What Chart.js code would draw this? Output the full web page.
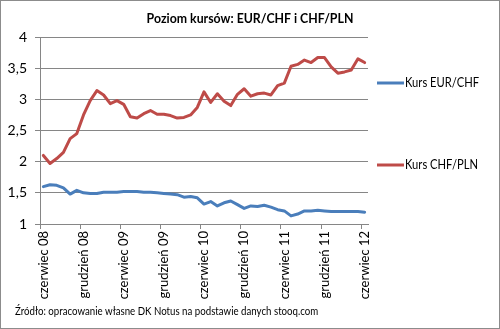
<!DOCTYPE html>
<html lang="pl">
<head>
<meta charset="utf-8">
<title>Poziom kursów: EUR/CHF i CHF/PLN</title>
<script src="https://cdn.jsdelivr.net/npm/chart.js@4"></script>
<style>
    html, body { margin: 0; padding: 0; background: #fff; }
    #wrap { position: relative; width: 500px; height: 329px; }
</style>
</head>
<body>
<div id="wrap"><canvas id="kursy" width="500" height="329"></canvas></div>
<script>
// miesiące od czerwca 2008 do czerwca 2012
const months = [
    'czerwiec 08', 'lipiec 08', 'sierpień 08', 'wrzesień 08', 'październik 08', 'listopad 08',
    'grudzień 08', 'styczeń 09', 'luty 09', 'marzec 09', 'kwiecień 09', 'maj 09',
    'czerwiec 09', 'lipiec 09', 'sierpień 09', 'wrzesień 09', 'październik 09', 'listopad 09',
    'grudzień 09', 'styczeń 10', 'luty 10', 'marzec 10', 'kwiecień 10', 'maj 10',
    'czerwiec 10', 'lipiec 10', 'sierpień 10', 'wrzesień 10', 'październik 10', 'listopad 10',
    'grudzień 10', 'styczeń 11', 'luty 11', 'marzec 11', 'kwiecień 11', 'maj 11',
    'czerwiec 11', 'lipiec 11', 'sierpień 11', 'wrzesień 11', 'październik 11', 'listopad 11',
    'grudzień 11', 'styczeń 12', 'luty 12', 'marzec 12', 'kwiecień 12', 'maj 12',
    'czerwiec 12'
];

const eurChf = [
    1.60, 1.63, 1.62, 1.58, 1.48, 1.54, 1.50, 1.49, 1.49, 1.51,
    1.51, 1.51, 1.52, 1.52, 1.52, 1.51, 1.51, 1.50, 1.49, 1.48,
    1.47, 1.43, 1.44, 1.42, 1.32, 1.36, 1.29, 1.34, 1.37, 1.31,
    1.25, 1.29, 1.28, 1.30, 1.27, 1.23, 1.21, 1.13, 1.16, 1.21,
    1.21, 1.22, 1.21, 1.20, 1.20, 1.20, 1.20, 1.20, 1.19
];

const chfPln = [
    2.10, 1.97, 2.05, 2.15, 2.37, 2.45, 2.75, 2.98, 3.14, 3.07,
    2.93, 2.98, 2.92, 2.72, 2.70, 2.77, 2.82, 2.76, 2.76, 2.74,
    2.70, 2.71, 2.75, 2.87, 3.12, 2.95, 3.09, 2.97, 2.90, 3.08,
    3.17, 3.05, 3.09, 3.10, 3.07, 3.22, 3.26, 3.53, 3.56, 3.63,
    3.59, 3.67, 3.67, 3.52, 3.42, 3.44, 3.47, 3.65, 3.59
];

const seriesNames = ['Kurs EUR/CHF', 'Kurs CHF/PLN'];
const seriesColors = ['#4a7ebb', '#be4b48'];
const yTicks = [1, 1.5, 2, 2.5, 3, 3.5, 4];
const labelEvery = 6;

const titleText = 'Poziom kursów: EUR/CHF i CHF/PLN';
const sourceText = 'Źródło: opracowanie własne DK Notus na podstawie danych stooq.com';
const FONT = 'Lato, "Open Sans", sans-serif';
const GRID = '#868686';

// Lato is wider than the original font, so text is squeezed a bit horizontally
function narrowText(ctx, text, x, y, squeeze) {
    ctx.save();
    ctx.translate(x, y);
    ctx.scale(squeeze, 1);
    ctx.fillText(text, 0, 0);
    ctx.restore();
}

// tytuł, legenda po prawej, źródło i ramka
const decorations = {
    id: 'decorations',
    afterDraw(chart) {
        const ctx = chart.ctx;
        ctx.save();
        ctx.fillStyle = '#000';
        ctx.textBaseline = 'middle';

        ctx.font = 'bold 14px ' + FONT;
        ctx.textAlign = 'center';
        narrowText(ctx, titleText, 250, 18, 0.88);

        ctx.font = '13px ' + FONT;
        ctx.textAlign = 'left';
        const legendY = [83, 165];
        seriesNames.forEach((name, i) => {
            ctx.strokeStyle = seriesColors[i];
            ctx.lineWidth = 3;
            ctx.beginPath();
            ctx.moveTo(377, legendY[i]);
            ctx.lineTo(404, legendY[i]);
            ctx.stroke();
            ctx.fillStyle = '#000';
            narrowText(ctx, name, 405, legendY[i], 0.86);
        });

        ctx.font = '11px ' + FONT;
        narrowText(ctx, sourceText, 15, 311, 0.88);

        ctx.strokeStyle = '#8c8c8c';
        ctx.lineWidth = 1;
        ctx.strokeRect(0.5, 0.5, 499, 328);
        ctx.restore();
    }
};

new Chart(document.getElementById('kursy'), {
    type: 'line',
    data: {
        labels: months,
        datasets: [
            { label: seriesNames[0], data: eurChf, borderColor: seriesColors[0] },
            { label: seriesNames[1], data: chfPln, borderColor: seriesColors[1] }
        ]
    },
    options: {
        responsive: false,
        animation: false,
        devicePixelRatio: 1,
        layout: { padding: { left: 0, right: 132, top: 37, bottom: 0 } },
        elements: {
            line: { borderWidth: 3, tension: 0, borderCapStyle: 'round', borderJoinStyle: 'round' },
            point: { radius: 0 }
        },
        plugins: {
            legend: { display: false },
            title: { display: false },
            tooltip: { enabled: false }
        },
        scales: {
            x: {
                offset: true,
                afterFit(scale) { scale.height = 105; },
                grid: {
                    offset: true,
                    drawOnChartArea: false,
                    tickLength: 5,
                    color: ctx => (ctx.index % labelEvery === 0 ? GRID : 'rgba(0,0,0,0)')
                },
                border: { color: GRID },
                ticks: {
                    autoSkip: false,
                    minRotation: 90,
                    maxRotation: 90,
                    padding: 2,
                    color: '#000',
                    font: { family: FONT, size: 13 },
                    callback(value, index) {
                        return index % labelEvery === 0 ? months[index] : '';
                    }
                }
            },
            y: {
                min: 1,
                max: 4,
                afterFit(scale) { scale.width = 40; },
                afterBuildTicks(scale) { scale.ticks = yTicks.map(v => ({ value: v })); },
                grid: { color: GRID, tickLength: 5 },
                border: { color: GRID },
                ticks: {
                    padding: 8,
                    color: '#000',
                    font: { family: FONT, size: 14 },
                    callback: v => String(v).replace('.', ',')
                }
            }
        }
    },
    plugins: [decorations]
});
</script>
</body>
</html>
